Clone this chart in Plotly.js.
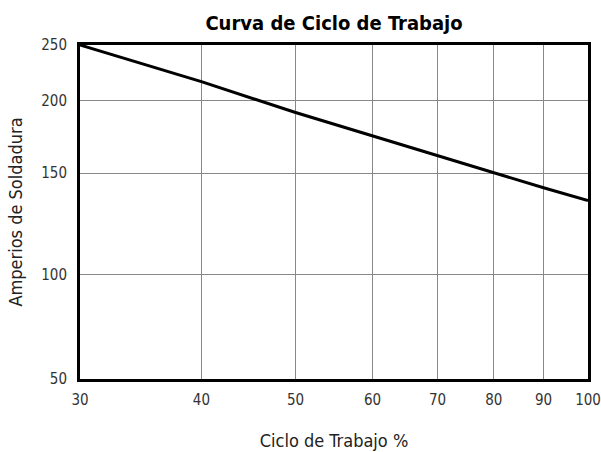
<!DOCTYPE html>
<html>
<head>
<meta charset="utf-8">
<script src="https://cdn.plot.ly/plotly-3.0.1.min.js"></script>
<style>html,body{margin:0;padding:0;background:#fff;}#chart{width:601px;height:452px;}</style>
</head>
<body>
<div id="chart"></div>
<script>
// Duty cycle (%) and welding amps
const dutyCycle = [30, 40, 50, 60, 70, 80, 90, 100];
const amps = [250, 216, 191, 174, 161, 150, 141.5, 134.5];

const xTickVals = [30, 40, 50, 60, 70, 80, 90, 100];
const xTickText = ['30', '40', '50', '60', '70', '80', '90', '100'];
// the source's y axis is broken at the bottom: its lowest edge is labelled 50
const yAxisBottom = 66;
const yTickVals = [yAxisBottom, 100, 150, 200, 250];
const yTickText = ['50', '100', '150', '200', '250'];

const FONT = '"DejaVu Sans Condensed", "Liberation Sans Narrow", sans-serif';

const trace = {
  x: dutyCycle, y: amps, type: 'scatter', mode: 'lines',
  line: {color: '#000', width: 3}, hoverinfo: 'skip'
};

const layout = {
  width: 601, height: 452,
  margin: {l: 80, r: 13, t: 45, b: 73},
  paper_bgcolor: '#fff', plot_bgcolor: '#fff',
  showlegend: false,
  font: {family: FONT, color: '#222', size: 15},
  title: {
    text: '<b>Curva de Ciclo de Trabajo</b>',
    font: {family: FONT, size: 20, color: '#000'},
    xref: 'paper', x: 0.5, xanchor: 'center',
    yref: 'container', y: 1 - 23/452, yanchor: 'middle'
  },
  xaxis: {
    type: 'log', range: [Math.log10(30), 2],
    tickmode: 'array', tickvals: xTickVals, ticktext: xTickText,
    showgrid: true, gridcolor: '#888', gridwidth: 1,
    showline: true, linecolor: '#000', linewidth: 3, mirror: true,
    ticks: 'outside', ticklen: 5, tickcolor: 'rgba(0,0,0,0)',
    tickfont: {family: FONT, size: 15, color: '#333'},
    title: {text: 'Ciclo de Trabajo %', font: {family: FONT, size: 18, color: '#222'}, standoff: 27},
    zeroline: false, fixedrange: true
  },
  yaxis: {
    type: 'log', range: [Math.log10(yAxisBottom), Math.log10(250)],
    tickmode: 'array', tickvals: yTickVals, ticktext: yTickText,
    showgrid: true, gridcolor: '#888', gridwidth: 1,
    showline: true, linecolor: '#000', linewidth: 3, mirror: true,
    ticks: 'outside', ticklen: 7, tickcolor: 'rgba(0,0,0,0)',
    tickfont: {family: FONT, size: 15, color: '#333'},
    title: {text: 'Amperios de Soldadura', font: {family: FONT, size: 18, color: '#222'}, standoff: 14},
    zeroline: false, fixedrange: true
  }
};

Plotly.newPlot('chart', [trace], layout, {staticPlot: true, displayModeBar: false});
</script>
</body>
</html>
